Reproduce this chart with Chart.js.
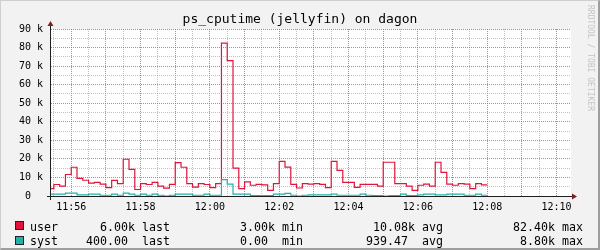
<!DOCTYPE html>
<html>
<head>
<meta charset="utf-8">
<title>ps_cputime (jellyfin) on dagon</title>
<script src="https://cdn.jsdelivr.net/npm/chart.js@4.4.1/dist/chart.umd.min.js"></script>
<style>
  html, body { margin: 0; padding: 0; background: #f2f2f2; }
  #wrap { position: relative; width: 600px; height: 250px; overflow: hidden; background: #f2f2f2; }
  #wrap canvas { position: absolute; left: 0; top: 0; }
  .frame { position: absolute; left: 0; top: 0; width: 600px; height: 250px; box-sizing: border-box;
           border-style: solid; border-width: 1px 2px 2px 1px;
           border-color: #cfcfcf #9e9e9e #9e9e9e #cfcfcf; pointer-events: none; }
  .leg { position: absolute; left: 30px; font-family: 'DejaVu Sans Mono', monospace; font-size: 11.63px;
         line-height: 14px; white-space: pre; color: #000; }
  .box { position: absolute; left: 15px; width: 7px; height: 7px; border: 1px solid #222; }
  .wm { position: absolute; left: 585px; top: 5px; writing-mode: vertical-rl; font-family: 'DejaVu Sans Mono', monospace;
        font-size: 8px; line-height: 10px; color: #c4c4c4; white-space: pre; }
</style>
</head>
<body>
<div id="wrap">
  <canvas id="chart" width="600" height="250"></canvas>
  <div class="box" style="top:221px;background:#e0143c"></div>
  <div class="leg" id="row1" style="top:219.5px"></div>
  <div class="box" style="top:236px;background:#20b2aa"></div>
  <div class="leg" id="row2" style="top:234px"></div>
  <div class="wm">RRDTOOL / TOBI OETIKER</div>
  <div class="frame"></div>
</div>
<script>
// sample times: first step starts 11:55:20, one value every 10 s
const startTime = '11:55:20';
const stepSeconds = 10;
const axisStart = '11:55:25';
const axisEnd = '12:10:25';

const userValues = [
  4000, 6200, 5300, 11600, 15500, 9500, 8500, 6900, 7300, 6400,
  4500, 8400, 6700, 19800, 14400, 3500, 6700, 6200, 7300, 5300,
  4200, 6300, 18000, 15500, 6700, 4800, 6700, 6200, 4500, 6700,
  82400, 73000, 15000, 4000, 7600, 5800, 6300, 6000, 3000, 6700,
  18700, 15600, 6300, 4300, 6700, 6400, 6700, 6300, 4500, 18700,
  13800, 7300, 7300, 4600, 6300, 6300, 6300, 5300, 18200, 18200,
  6700, 6700, 5300, 3000, 5800, 6400, 5300, 18200, 12700, 6400,
  5800, 6700, 6400, 4000, 6700, 6000
];
const systValues = [
  1000, 1000, 1000, 1600, 1600, 600, 600, 1000, 1000, 400,
  400, 1000, 400, 1600, 1000, 400, 1000, 400, 1000, 400,
  0, 400, 1000, 1000, 1000, 400, 400, 1000, 400, 400,
  8800, 6400, 1000, 1000, 1000, 200, 200, 200, 200, 1000,
  1000, 1400, 400, 0, 400, 600, 600, 600, 600, 1000,
  400, 400, 400, 400, 1000, 400, 200, 200, 0, 200,
  200, 1000, 200, 200, 600, 1000, 1000, 600, 600, 1000,
  1000, 1000, 400, 400, 1000, 400
];

const xTickLabels = ['11:56', '11:58', '12:00', '12:02', '12:04', '12:06', '12:08', '12:10'];
const yTickLabels = ['0  ', '10 k', '20 k', '30 k', '40 k', '50 k', '60 k', '70 k', '80 k', '90 k'];

// legend lines (GPRINT style)
document.getElementById('row1').textContent =
  'user' + ' '.repeat(6) + '6.00k last' + ' '.repeat(10) + '3.00k min' + ' '.repeat(10) +
  '10.08k avg' + ' '.repeat(10) + '82.40k max';
document.getElementById('row2').textContent =
  'syst' + ' '.repeat(4) + '400.00  last' + ' '.repeat(10) + '0.00  min' + ' '.repeat(9) +
  '939.47  avg' + ' '.repeat(11) + '8.80k max';

function toSec(s){
  const p = s.split(':').map(Number);
  return p[0]*3600 + p[1]*60 + (p[2] || 0);
}
function hhmm(sec){
  const h = Math.floor(sec/3600), m = Math.floor(sec%3600/60);
  return String(h).padStart(2,'0') + ':' + String(m).padStart(2,'0');
}

const t0 = toSec(startTime);
function toPoints(vals){
  const pts = vals.map((v,i) => ({x: t0 + i*stepSeconds, y: v}));
  // close the last step
  pts.push({x: t0 + vals.length*stepSeconds, y: vals[vals.length-1]});
  return pts;
}

const minorGrid = 'rgba(143,143,143,0.55)';
const majorGrid = 'rgba(230,70,70,0.75)';
const monoFont = {family: "'DejaVu Sans Mono', monospace", size: 10};

// white canvas behind the plot, axes + arrows on top
const rrdPlugin = {
  id: 'rrd',
  beforeDraw(chart){
    const {ctx, chartArea: a} = chart;
    ctx.save();
    ctx.fillStyle = '#fff';
    ctx.fillRect(a.left, a.top, a.right - a.left, a.bottom - a.top);
    ctx.restore();
  },
  afterDatasetsDraw(chart){
    const {ctx, chartArea: a} = chart;
    const yb = a.bottom + 0.5, xl = a.left - 0.5;
    ctx.save();
    ctx.strokeStyle = '#1f1f1f';
    ctx.lineWidth = 1;
    ctx.beginPath();
    ctx.moveTo(a.left - 4, yb); ctx.lineTo(a.right + 2, yb);
    ctx.moveTo(xl, a.bottom + 4); ctx.lineTo(xl, a.top - 3);
    ctx.stroke();
    ctx.fillStyle = '#801f1f';
    ctx.beginPath();
    ctx.moveTo(a.right + 6, yb); ctx.lineTo(a.right + 1, yb - 3); ctx.lineTo(a.right + 1, yb + 3);
    ctx.closePath(); ctx.fill();
    ctx.beginPath();
    ctx.moveTo(xl, a.top - 8); ctx.lineTo(xl - 3, a.top - 3); ctx.lineTo(xl + 3, a.top - 3);
    ctx.closePath(); ctx.fill();
    ctx.restore();
  }
};

new Chart(document.getElementById('chart'), {
  type: 'line',
  data: {
    datasets: [{
      label: 'user',
      data: toPoints(userValues),
      borderColor: '#e0143c',
      borderWidth: 1.2,
      stepped: true,
      pointRadius: 0,
      fill: false,
      order: 1
    }, {
      label: 'syst',
      data: toPoints(systValues),
      borderColor: '#20b2aa',
      borderWidth: 1.2,
      stepped: true,
      pointRadius: 0,
      fill: false,
      order: 0
    }]
  },
  options: {
    responsive: false,
    animation: false,
    events: [],
    layout: {padding: {left: 0, right: 0, top: 0, bottom: 34}},
    plugins: {
      legend: {display: false},
      tooltip: {enabled: false},
      title: {
        display: true,
        text: 'ps_cputime (jellyfin) on dagon',
        color: '#000',
        font: {family: "'DejaVu Sans Mono', monospace", size: 13, weight: 'normal'},
        padding: {top: 11.5, bottom: 1.9}
      }
    },
    scales: {
      x: {
        type: 'linear',
        min: toSec(axisStart),
        max: toSec(axisEnd),
        afterBuildTicks: s => {
          const t = [];
          for (let v = Math.ceil(s.min/30)*30; v <= s.max; v += 30) t.push({value: v});
          s.ticks = t;
        },
        afterFit: s => { s.height = 20; },
        grid: {
          color: c => (c.tick && c.tick.value % 60 === 0) ? majorGrid : minorGrid,
          drawTicks: false
        },
        border: {display: false, dash: [1, 1]},
        ticks: {
          autoSkip: false, maxRotation: 0, padding: 5, color: '#000', font: monoFont,
          callback: v => (v % 60 === 0 && xTickLabels.includes(hhmm(v))) ? hhmm(v) : ''
        }
      },
      y: {
        min: 0,
        max: 90000,
        afterBuildTicks: s => {
          const t = [];
          for (let v = 0; v <= 90000; v += 5000) t.push({value: v});
          s.ticks = t;
        },
        afterFit: s => { s.width = 51; },
        grid: {
          color: c => (c.tick && c.tick.value % 10000 === 0) ? majorGrid : minorGrid,
          drawTicks: false
        },
        border: {display: false, dash: [1, 1]},
        ticks: {
          autoSkip: false, padding: 8, color: '#000', font: monoFont,
          callback: v => v % 10000 === 0 ? yTickLabels[v/10000] : ''
        }
      },
      // empty strip on the right, keeps the title centred on the whole image
      yRight: {
        position: 'right',
        min: 0,
        max: 90000,
        afterFit: s => { s.width = 29; },
        grid: {display: false, drawTicks: false},
        border: {display: false},
        ticks: {display: false}
      }
    }
  },
  plugins: [rrdPlugin]
});
</script>
</body>
</html>
